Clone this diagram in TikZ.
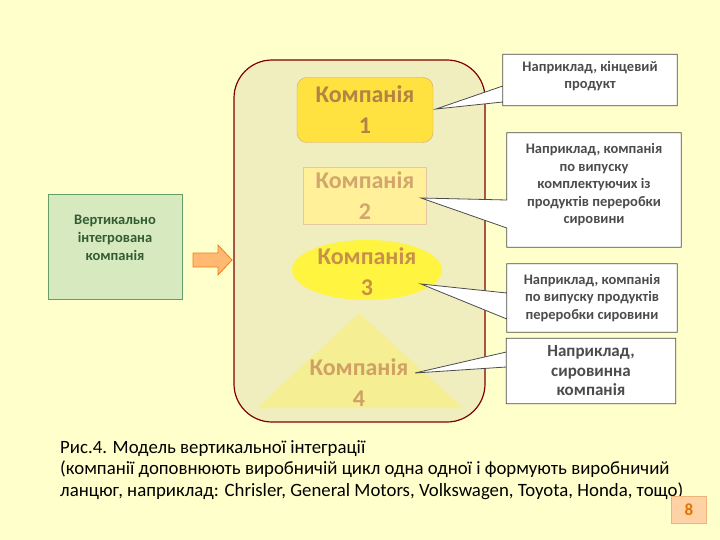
\documentclass[tikz,border=0pt]{standalone}
\usepackage{fontspec}
\setmainfont{Carlito}
\usetikzlibrary{shapes.geometric}
\definecolor{bg}{HTML}{FFFFCC}
\definecolor{panel}{HTML}{F0EDBE}
\definecolor{ctext}{HTML}{C8904A}
\tikzset{
  callout/.style={draw=black!70,fill=white,line width=0.8pt},
  ctxt/.style={align=center,font=\bfseries\fontsize{14.5}{17.5}\selectfont,text=black!70},
  comp/.style={align=center,font=\bfseries\fontsize{24}{31}\selectfont,text=ctext},
}
\begin{document}
\begin{tikzpicture}[x=1pt,y=-1pt]
\useasboundingbox (0,0) rectangle (720,540);
\fill[bg] (0,0) rectangle (720,540);
% panel
\draw[fill=panel,draw=red!50!black,line width=1.2pt,rounded corners=38pt] (234,60) rectangle (485,422);
% companies
\node[comp,draw=ctext!80,fill=orange!30!yellow!75!white,rounded corners=10pt,minimum width=136pt,minimum height=65pt] (c1) at (365,110) {};
\node[comp,text=ctext!90!black] at (365,110) {Компанія\\1};
\node[comp,draw=ctext!50,fill=orange!30!yellow!40!white,text=ctext!80,minimum width=123pt,minimum height=57pt] (c2) at (365,196) {};
\node[comp,text=ctext!80] at (365,196) {Компанія\\2};
\node[ellipse,fill=yellow!75!white,minimum width=150pt,minimum height=60pt,inner sep=0pt] (c3) at (367,270) {};
\node[comp] at (367,272) {Компанія\\3};
\fill[yellow!25!panel] (359,313) -- (463,408) -- (257,408) -- cycle;
\node[comp,text=ctext!85] (c4) at (359,383) {Компанія\\4};
% callouts
\node[minimum width=174pt,minimum height=51pt] (n1) at (590,80) {};
\coordinate (t1) at (436,109);
\draw[callout] (n1.north west) -- (n1.north east) -- (n1.south east) -- (n1.south west) -- ([yshift=-6pt]n1.west) -- (t1) -- ([yshift=-22pt]n1.west) -- cycle;
\node[ctxt] at (590,76) {Наприклад, кінцевий\\продукт};
\node[minimum width=174pt,minimum height=114pt] (n2) at (594,190) {};
\coordinate (t2) at (421,198);
\draw[callout] (n2.north west) -- (n2.north east) -- (n2.south east) -- (n2.south west) -- ([yshift=-38pt]n2.west) -- (t2) -- ([yshift=-10pt]n2.west) -- cycle;
\node[ctxt] at (594,185) {Наприклад, компанія\\по випуску\\комплектуючих із\\продуктів переробки\\сировини};
\node[minimum width=170pt,minimum height=68pt] (n3) at (592,298) {};
\coordinate (t3) at (421,284);
\draw[callout] (n3.north west) -- (n3.north east) -- (n3.south east) -- (n3.south west) -- ([yshift=5pt]n3.west) -- (t3) -- ([yshift=-21pt]n3.west) -- cycle;
\node[ctxt] at (n3) {Наприклад, компанія\\по випуску продуктів\\переробки сировини};
\node[minimum width=169pt,minimum height=65pt] (n4) at (591,371) {};
\coordinate (t4) at (415,373);
\draw[callout] (n4.north west) -- (n4.north east) -- (n4.south east) -- (n4.south west) -- ([yshift=19pt]n4.west) -- (t4) -- ([yshift=4pt]n4.west) -- cycle;
\node[ctxt,font=\bfseries\fontsize{17}{19.5}\selectfont] at (n4) {Наприклад,\\сировинна\\компанія};
% left box and arrow
\node[draw=green!35!black!60,fill=green!30!olive!25!white,line width=0.8pt,minimum width=134pt,minimum height=105pt] (lb) at (115,247) {};
\node[align=center,font=\bfseries\fontsize{14.5}{18}\selectfont,text=green!20!black!80] at (115,238) {Вертикально\\інтегрована\\компанія};
\draw[draw=orange!70!brown,fill=orange!55!white,line width=0.8pt] (193,253) -- (218,253) -- (218,245) -- (232,260) -- (218,275) -- (218,267) -- (193,267) -- cycle;
% caption
\node[anchor=north west,align=left,font=\fontsize{18.8}{21.5}\selectfont,text=black,inner sep=0pt] (cap) at (60,440) {Рис.4. Модель вертикальної інтеграції\\ (компанії доповнюють виробничій цикл одна одної і формують виробничий\\ланцюг, наприклад: Chrisler, General Motors, Volkswagen, Toyota, Honda, тощо)};
\node[draw=orange!60!brown!60,fill=orange!35!white,minimum width=35pt,minimum height=27pt,font=\bfseries\fontsize{17}{18}\selectfont,text=orange!90!black] (pg) at (689,510) {8};
\end{tikzpicture}
\end{document}
